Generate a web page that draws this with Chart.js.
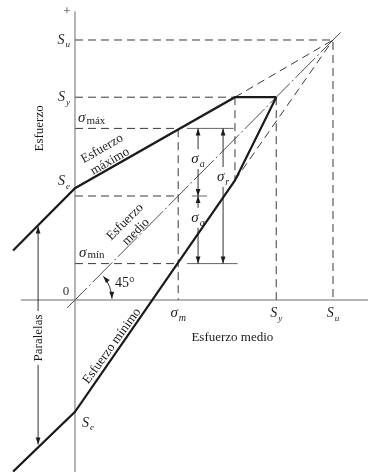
<!DOCTYPE html>
<html>
<head>
<meta charset="utf-8">
<script src="https://cdn.jsdelivr.net/npm/chart.js@4/dist/chart.umd.min.js"></script>
<style>
  html, body { margin: 0; padding: 0; background: #fff; }
  canvas { display: block; }
</style>
</head>
<body>
<canvas id="c" width="368" height="472"></canvas>
<script>
// Material strengths, expressed with S_u = 100
const strengthNames = ['S_u', 'S_y', 'S_e'];
const strengthValues = [100, 78, 43];

// Operating point: maximum, mean and minimum stress
const stressNames = ['σ_máx', 'σ_m', 'σ_mín'];
const stressValues = [66, 40, 14];

// Maximum-stress line (x = mean stress, y = stress)
const maxLineX = [-24, 0, 62, 78];
const maxLineY = [19, 43, 78, 78];

// Minimum-stress line
const minLineX = [-24, 0, 62, 78];
const minLineY = [-66, -43, 46, 78];

// 45° mean-stress line
const meanLineX = [-3, 103];
const meanLineY = [-3, 103];

// Extent of the drawn axes
const axisXStart = -21;
const axisYEnd = 111;

const [Su, Sy, Se] = strengthValues;
const [sMax, sM, sMin] = stressValues;
const kneeX = maxLineX[2];
const kneeLowY = minLineY[2];

const INK = '#1b1b1b';
const GUIDE = '#3a3a3a';
const AXIS = '#6a6a6a';
const SERIF = '"Liberation Serif", "DejaVu Serif", serif';

const pts = (xs, ys) => xs.map((x, i) => ({ x, y: ys[i] }));

function seg(data, width, color, dash) {
  return {
    data, showLine: true, pointRadius: 0, borderWidth: width,
    borderColor: color, borderDash: dash || [], fill: false,
    tension: 0, clip: false
  };
}
const DASH = [8, 5];

const datasets = [
  // thick fatigue lines
  seg(pts(maxLineX, maxLineY), 2.2, INK),
  seg(pts(minLineX, minLineY), 2.2, INK),
  // axes
  seg([{ x: 0, y: -70 }, { x: 0, y: axisYEnd }], 1, AXIS),
  seg([{ x: axisXStart, y: 0 }, { x: 120, y: 0 }], 1, AXIS),
  // guides for the strengths
  seg([{ x: 0, y: Su }, { x: Su, y: Su }, { x: Su, y: 0 }], 1, GUIDE, DASH),
  seg([{ x: 0, y: Sy }, { x: kneeX, y: Sy }], 1, GUIDE, DASH),
  seg([{ x: kneeX, y: Sy }, { x: kneeX, y: kneeLowY }], 1, GUIDE, DASH),
  seg([{ x: Sy, y: Sy }, { x: Sy, y: 0 }], 1, GUIDE, DASH),
  // projections of both lines towards S_u
  seg([{ x: kneeX, y: Sy }, { x: Su, y: Su }], 1, GUIDE, DASH),
  seg([{ x: kneeX, y: kneeLowY }, { x: Su, y: Su }], 1, GUIDE, DASH),
  // 45° mean-stress line
  seg(pts(meanLineX, meanLineY), 0.9, GUIDE, [28, 3, 2, 3]),
  // guides for the operating point
  seg([{ x: 0, y: sMax }, { x: sM, y: sMax }, { x: sM, y: 0 }], 1, GUIDE, DASH),
  seg([{ x: 0, y: sM }, { x: sM, y: sM }], 1, GUIDE, DASH),
  seg([{ x: 0, y: sMin }, { x: sM, y: sMin }], 1, GUIDE, DASH),
  // extension lines for the amplitude arrows
  seg([{ x: sM + 3.4, y: sMax }, { x: kneeX - 0.5, y: sMax }], 0.9, '#555'),
  seg([{ x: sM + 5.3, y: sM }, { x: sM + 11.2, y: sM }], 0.9, '#555'),
  seg([{ x: sM + 3.4, y: sMin }, { x: kneeX + 1, y: sMin }], 0.9, '#555')
];

// value of a polyline at x
function lineAt(xs, ys, x) {
  for (let i = 0; i < xs.length - 1; i++) {
    if (x >= xs[i] && x <= xs[i + 1]) {
      const t = (x - xs[i]) / (xs[i + 1] - xs[i]);
      return ys[i] + t * (ys[i + 1] - ys[i]);
    }
  }
  return ys[0];
}

function head(ctx, x, y, ang) {
  const L = 7, W = 2.4;
  const c = Math.cos(ang), s = Math.sin(ang);
  ctx.beginPath();
  ctx.moveTo(x, y);
  ctx.lineTo(x - L * c + W * s, y - L * s - W * c);
  ctx.lineTo(x - L * c - W * s, y - L * s + W * c);
  ctx.closePath();
  ctx.fill();
}

// vertical double arrow, broken around a label
function vArrow(ctx, x, yTop, yBot, gapMid, gapHalf) {
  ctx.beginPath();
  if (gapMid == null) {
    ctx.moveTo(x, yTop); ctx.lineTo(x, yBot);
  } else {
    ctx.moveTo(x, yTop); ctx.lineTo(x, gapMid - gapHalf);
    ctx.moveTo(x, gapMid + gapHalf); ctx.lineTo(x, yBot);
  }
  ctx.stroke();
  head(ctx, x, yTop, -Math.PI / 2);
  head(ctx, x, yBot, Math.PI / 2);
}

// italic symbol with subscript
function sym(ctx, main, sub, x, y, align, size) {
  size = size || 14;
  const mainFont = 'italic ' + size + 'px ' + SERIF;
  const word = sub.length > 1;
  const subFont = word
    ? Math.round(size * 0.7) + 'px ' + SERIF
    : 'italic ' + Math.round(size * 0.64) + 'px ' + SERIF;
  const drop = word ? 1.5 : size * 0.25;
  ctx.font = mainFont;
  const w1 = ctx.measureText(main).width;
  ctx.font = subFont;
  const w2 = ctx.measureText(sub).width;
  const total = w1 + 1 + w2;
  let x0 = x;
  if (align === 'right') x0 = x - total;
  else if (align === 'center') x0 = x - total / 2;
  ctx.textAlign = 'left';
  ctx.textBaseline = 'alphabetic';
  ctx.font = mainFont;
  ctx.fillText(main, x0, y);
  ctx.font = subFont;
  ctx.fillText(sub, x0 + w1 + 1, y + drop);
}

function rotText(ctx, text, x, y, deg, font) {
  ctx.save();
  ctx.translate(x, y);
  ctx.rotate(deg * Math.PI / 180);
  ctx.font = font;
  ctx.textAlign = 'center';
  ctx.textBaseline = 'middle';
  ctx.fillText(text, 0, 0);
  ctx.restore();
}

const annotate = {
  id: 'annotate',
  afterDatasetsDraw(chart) {
    const ctx = chart.ctx;
    const X = v => chart.scales.x.getPixelForValue(v);
    const Y = v => chart.scales.y.getPixelForValue(v);
    ctx.save();
    ctx.fillStyle = INK;
    ctx.strokeStyle = INK;
    ctx.lineWidth = 0.9;

    // amplitude and range arrows
    const xa = sM + 7.7, xr = sM + 17.4;
    const lblA1 = (Y(sMax) + Y(sM)) / 2 - 3;
    const lblA2 = (Y(sM) + Y(sMin)) / 2 - 12;
    const lblR = Y(sM) - 19;
    vArrow(ctx, X(xa), Y(sMax), Y(sM), lblA1, 10);
    vArrow(ctx, X(xa), Y(sM), Y(sMin), lblA2, 10);
    vArrow(ctx, X(xr), Y(sMax), Y(sMin), lblR, 10);
    sym(ctx, 'σ', 'a', X(xa), lblA1 + 4, 'center', 15);
    sym(ctx, 'σ', 'a', X(xa), lblA2 + 4, 'center', 15);
    sym(ctx, 'σ', 'r', X(xr), lblR + 4, 'center', 15);

    // "Paralelas" arrow between the two lines
    const xp = -14.3;
    const yUp = Y(lineAt(maxLineX, maxLineY, xp)) + 1;
    const yDn = Y(lineAt(minLineX, minLineY, xp)) - 3;
    const mid = Y(-14.6);
    ctx.beginPath();
    ctx.moveTo(X(xp), yUp); ctx.lineTo(X(xp), mid - 27);
    ctx.moveTo(X(xp), mid + 27); ctx.lineTo(X(xp), yDn);
    ctx.stroke();
    head(ctx, X(xp), yUp, -Math.PI / 2);
    head(ctx, X(xp), yDn, Math.PI / 2);
    rotText(ctx, 'Paralelas', X(xp), mid, -90, '13px ' + SERIF);

    // 45° angle arc
    const cx = X(0), cy = Y(0), r = 37;
    const a0 = -2 * Math.PI / 180, a1 = -40 * Math.PI / 180;
    ctx.beginPath();
    ctx.arc(cx, cy, r, a1, a0);
    ctx.stroke();
    head(ctx, cx + r * Math.cos(a0), cy + r * Math.sin(a0), a0 + Math.PI / 2);
    head(ctx, cx + r * Math.cos(a1), cy + r * Math.sin(a1), a1 - Math.PI / 2);
    ctx.font = '14px ' + SERIF;
    ctx.textAlign = 'left';
    ctx.textBaseline = 'middle';
    ctx.fillText('45°', cx + 40, cy - 17);

    // axis marks
    ctx.fillStyle = '#333';
    ctx.font = '13px ' + SERIF;
    ctx.textAlign = 'center';
    ctx.fillText('+', X(0) - 8, Y(axisYEnd));
    ctx.fillText('0', X(0) - 9, Y(0) - 8);

    // strength labels on the stress axis
    ctx.fillStyle = INK;
    sym(ctx, 'S', 'u', X(0) - 5, Y(Su) + 4, 'right');
    sym(ctx, 'S', 'y', X(0) - 5, Y(Sy) + 4, 'right');
    sym(ctx, 'S', 'e', X(0) - 5, Y(Se) - 3, 'right');
    sym(ctx, 'S', 'e', X(0) + 7, Y(-Se) + 15, 'left');
    sym(ctx, 'σ', 'máx', X(0) + 3, Y(sMax) - 6, 'left', 15);
    sym(ctx, 'σ', 'mín', X(0) + 4, Y(sMin) - 7, 'left', 15);

    // labels under the mean-stress axis
    sym(ctx, 'σ', 'm', X(sM), Y(0) + 17, 'center', 15);
    sym(ctx, 'S', 'y', X(Sy), Y(0) + 17, 'center');
    sym(ctx, 'S', 'u', X(Su), Y(0) + 17, 'center');

    // axis titles
    ctx.font = '13px ' + SERIF;
    ctx.textAlign = 'center';
    ctx.textBaseline = 'middle';
    ctx.fillText('Esfuerzo medio', X(61), Y(0) + 38);
    rotText(ctx, 'Esfuerzo', X(-13.6), Y(66), -90, '13px ' + SERIF);

    // line names
    rotText(ctx, 'Esfuerzo', X(10.5), Y(58.2), -30, '13px ' + SERIF);
    rotText(ctx, 'máximo', X(13.6), Y(53.3), -30, '13px ' + SERIF);
    rotText(ctx, 'Esfuerzo', X(19.4), Y(30), -45, '13px ' + SERIF);
    rotText(ctx, 'medio', X(23.6), Y(26.2), -45, '13px ' + SERIF);
    rotText(ctx, 'Esfuerzo mínimo', X(14.3), Y(-17.7), -54, '13px ' + SERIF);

    ctx.restore();
  }
};

new Chart(document.getElementById('c'), {
  type: 'scatter',
  data: { datasets },
  options: {
    responsive: false,
    animation: false,
    devicePixelRatio: 1,
    events: [],
    layout: { padding: 0 },
    plugins: { legend: { display: false }, tooltip: { enabled: false } },
    scales: {
      x: { type: 'linear', display: false, min: -29.07, max: 113.57 },
      y: { type: 'linear', display: false, min: -66.15, max: 115.38 }
    }
  },
  plugins: [annotate]
});
</script>
</body>
</html>
